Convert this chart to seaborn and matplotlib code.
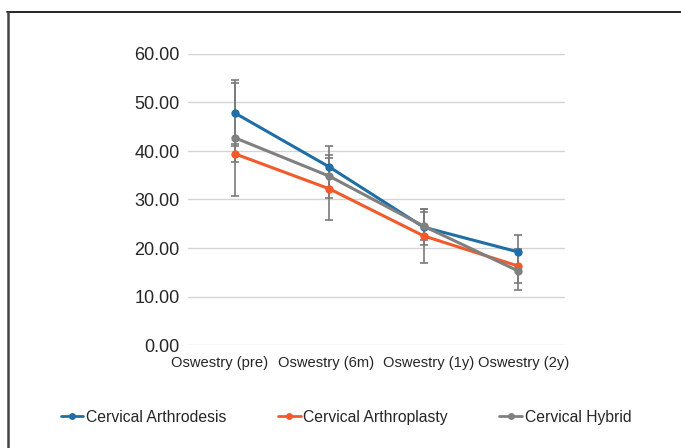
import matplotlib
matplotlib.use("Agg")
import matplotlib.pyplot as plt
import matplotlib.transforms as mtransforms
import seaborn as sns
import pandas as pd
from matplotlib.lines import Line2D

categories = ["Oswestry (pre)", "Oswestry (6m)", "Oswestry (1y)", "Oswestry (2y)"]
series_names = ["Cervical Arthrodesis", "Cervical Arthroplasty", "Cervical Hybrid"]
arthrodesis = [47.8, 36.7, 24.3, 19.2]
arthroplasty = [39.4, 32.2, 22.5, 16.3]
hybrid = [42.7, 34.8, 24.5, 15.3]
arthrodesis_err = [6.3, 4.3, 3.7, 3.5]
arthroplasty_err = [1.7, 6.4, 5.6, 3.5]
hybrid_err = [12.0, 4.4, 2.9, 4.0]
yticks = [0, 10, 20, 30, 40, 50, 60]

colors = {"Cervical Arthrodesis": "#1f6fa6",
          "Cervical Arthroplasty": "#f4592a",
          "Cervical Hybrid": "#808080"}

rows = []
for name, vals, errs in zip(series_names, [arthrodesis, arthroplasty, hybrid],
                            [arthrodesis_err, arthroplasty_err, hybrid_err]):
    for c, v, e in zip(categories, vals, errs):
        rows.append({"cat": c, "value": v, "err": e, "series": name})
df = pd.DataFrame(rows)

sns.set_style("white")
plt.rcParams["font.family"] = ["Liberation Sans", "DejaVu Sans"]

fig = plt.figure(figsize=(6.81, 4.48), dpi=100)
ax = fig.add_axes([188 / 681, 1 - 345 / 448, (565 - 188) / 681, (345 - 54) / 448])

# error bars
for name in series_names:
    sub = df[df.series == name]
    xs = [categories.index(c) for c in sub.cat]
    ax.errorbar(xs, sub.value, yerr=sub.err, fmt="none", ecolor="#7a7a7a",
                elinewidth=1.2, capsize=3.2, capthick=1.2, zorder=2)

sns.lineplot(data=df, x="cat", y="value", hue="series", palette=colors,
             hue_order=series_names, marker="o", markersize=6, markeredgewidth=0,
             linewidth=2.2, sort=False, ax=ax, legend=False, zorder=3)

ax.set_xlim(-0.5, 3.5)
ax.set_ylim(0, 60)
ax.set_yticks(yticks)
ax.set_yticklabels([f"{t:.2f}" for t in yticks], fontsize=13)
ax.set_xticks(range(len(categories)))
ax.set_xticklabels(categories, fontsize=10.6)
ax.set_xlabel("")
ax.set_ylabel("")
ax.tick_params(axis="y", length=0, pad=6)
ax.tick_params(axis="x", length=0, pad=8)
ax.grid(axis="y", color="#d4d4d4", linewidth=1)
ax.grid(axis="x", visible=False)
for s in ax.spines.values():
    s.set_visible(False)
ax.set_axisbelow(True)

# spread category labels apart like the reference
label_shift_px = [-16, -3, 5, 6]
for lab, dx in zip(ax.get_xticklabels(), label_shift_px):
    lab.set_transform(lab.get_transform() +
                      mtransforms.ScaledTranslation(dx / 100, 0, fig.dpi_scale_trans))

handles = [Line2D([0], [0], color=colors[n], marker="o", markersize=5, linewidth=2,
                  markeredgewidth=0) for n in series_names]
fig.legend(handles, series_names, loc="center", bbox_to_anchor=(0.508, 1 - 417 / 448),
           ncol=3, frameon=False, fontsize=11.3, handlelength=1.45, handletextpad=0.15,
           columnspacing=3.3)

# outer frame (top and left edges)
fig.add_artist(Line2D([7 / 681, 1], [1 - 12 / 448, 1 - 12 / 448], color="black",
                      linewidth=1.2, transform=fig.transFigure))
fig.add_artist(Line2D([8 / 681, 8 / 681], [0, 1 - 12 / 448], color="#444444",
                      linewidth=1.8, transform=fig.transFigure))

fig.savefig("out.png", dpi=100)
